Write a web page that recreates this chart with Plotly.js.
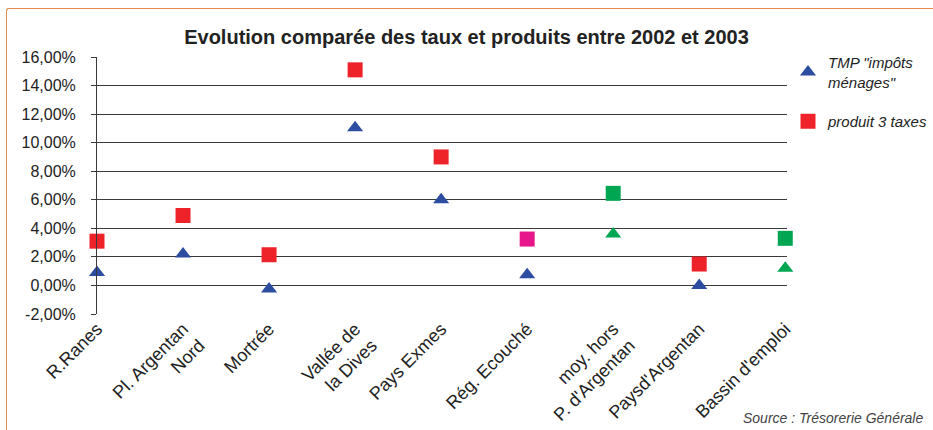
<!DOCTYPE html>
<html>
<head>
<meta charset="utf-8">
<script src="https://cdn.plot.ly/plotly-3.0.1.min.js"></script>
<style>
html,body{margin:0;padding:0;background:#fff;}
#wrap{position:relative;width:933px;height:430px;overflow:hidden;}
#chart{position:absolute;left:0;top:0;width:933px;height:430px;}
#frame{position:absolute;left:6px;top:8px;width:1000px;height:500px;border-top:1.5px solid #E38B4C;border-left:1.5px solid #E38B4C;border-top-left-radius:3px;pointer-events:none;}
</style>
</head>
<body>
<div id="wrap"><div id="chart"></div><div id="frame"></div></div>
<script>
const categories = ["R.Ranes", "Pl. Argentan<br>Nord", "Mortrée", "Vallée de<br>la Dives", "Pays Exmes", "Rég. Ecouché", "moy. hors<br>P. d'Argentan", "Paysd'Argentan", "Bassin d'emploi"];
const tmpImpotsMenages = [0.9, 2.2, -0.25, 11.05, 6.0, 0.75, 3.6, 0.0, 1.2];
const produit3Taxes = [3.1, 4.9, 2.15, 15.1, 9.0, 3.25, 6.45, 1.5, 3.3];
const yTicks = [-2, 0, 2, 4, 6, 8, 10, 12, 14, 16];
const yTickLabels = ["-2,00%", "0,00%", "2,00%", "4,00%", "6,00%", "8,00%", "10,00%", "12,00%", "14,00%", "16,00%"];

const BLUE = "#2C4DA0", RED = "#EE2229", MAGENTA = "#E8168B", GREEN = "#00A651";
const triColors = [BLUE, BLUE, BLUE, BLUE, BLUE, BLUE, GREEN, BLUE, GREEN];
const sqColors = [RED, RED, RED, RED, RED, MAGENTA, GREEN, RED, GREEN];
const xIdx = categories.map((c, i) => i);

const FONT = "Liberation Sans, Arial, sans-serif";

const traces = [
  {
    type: "scatter", mode: "markers", name: "TMP \"impôts<br>ménages\"",
    x: xIdx, y: tmpImpotsMenages, legendgroup: "a",
    marker: {symbol: "triangle-up", size: 14, color: triColors},
    cliponaxis: false
  },
  {
    type: "scatter", mode: "markers", name: "produit 3 taxes",
    x: xIdx, y: produit3Taxes, legendgroup: "b",
    marker: {symbol: "square", size: 15, color: sqColors},
    cliponaxis: false
  }
];

const layout = {
  width: 933, height: 430,
  margin: {l: 97, r: 146, t: 57, b: 116},
  paper_bgcolor: "#fff", plot_bgcolor: "#fff",
  font: {family: FONT, color: "#222", size: 16},
  showlegend: true,
  title: {
    text: "<b>Evolution comparée des taux et produits entre 2002 et 2003</b>",
    font: {family: FONT, size: 20, color: "#222"},
    x: 0.5, xref: "container", xanchor: "center",
    y: 1 - 37/430, yref: "container", yanchor: "middle"
  },
  xaxis: {
    range: [0, 8.02], automargin: false,
    tickmode: "array", tickvals: xIdx, ticktext: categories,
    tickangle: -45, showgrid: false, zeroline: false, showline: false,
    ticks: "", tickfont: {family: FONT, size: 18, color: "#222"},
    fixedrange: true
  },
  yaxis: {
    range: [-2, 16], automargin: false,
    tickmode: "array", tickvals: yTicks, ticktext: yTickLabels,
    showgrid: true, gridcolor: "#3a3a3a", gridwidth: 1,
    zeroline: false, showline: true, linecolor: "#3a3a3a", linewidth: 1,
    ticks: "outside", ticklen: 5, tickcolor: "#3a3a3a",
    ticklabelstandoff: 12,
    tickfont: {family: FONT, size: 16, color: "#222"},
    fixedrange: true
  },
  legend: {
    xref: "container", yref: "container",
    x: 788 / 933, xanchor: "left", y: 1 - 46 / 430, yanchor: "top",
    traceorder: "grouped", tracegroupgap: 17,
    itemwidth: 30,
    font: {family: FONT, size: 15, color: "#222", style: "italic"},
    bgcolor: "rgba(0,0,0,0)"
  },
  annotations: [
    {
      text: "Source : Trésorerie Générale", showarrow: false,
      xref: "paper", yref: "paper", x: (925 - 97) / 690, y: -(418 - 314) / 257,
      xanchor: "right", yanchor: "middle",
      font: {family: FONT, size: 14, color: "#444", style: "italic"}
    }
  ]
};

Plotly.newPlot("chart", traces, layout, {displayModeBar: false, staticPlot: true});
</script>
</body>
</html>
